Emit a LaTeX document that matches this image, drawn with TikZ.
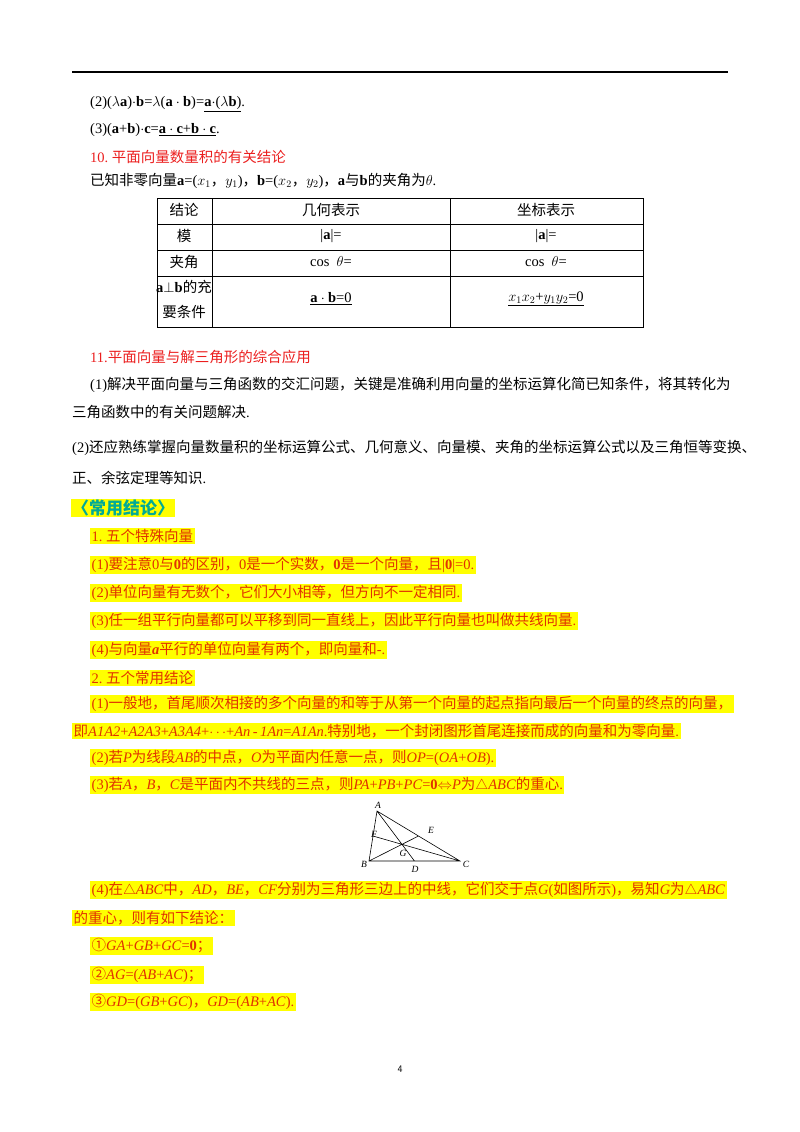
\documentclass[tikz,border=0pt]{standalone}
\usepackage{fontspec}
\usetikzlibrary{calc}
\setmainfont{Liberation Serif}
\newfontfamily\cjk{Noto Sans CJK SC}
\newcommand{\zh}[1]{{\cjk #1}}
\definecolor{rd}{RGB}{235,30,30}
\definecolor{hr}{RGB}{225,50,0}
\definecolor{hy}{RGB}{255,255,0}
\definecolor{tl}{RGB}{0,170,150}
\begin{document}
\begin{tikzpicture}[x=1pt,y=-1pt,
  t/.style={anchor=west,inner sep=0pt,font=\fontsize{14.5}{16}\selectfont},
  h/.style={anchor=west,inner sep=1.5pt,fill=hy,text=hr,font=\fontsize{14.5}{16}\selectfont},
  c/.style={inner sep=0pt,font=\fontsize{14.5}{16}\selectfont},
  s/.style={inner sep=0pt,font=\itshape\fontsize{9.5}{10}\selectfont}]
\useasboundingbox (0,0) rectangle (800,1132);
\draw[line width=1.3pt] (72,72) -- (728,72);
\node[t] (l1) at (90,104) {(2)($\lambda\mathbf{a}$)$\cdot\mathbf{b}$=$\lambda$($\mathbf{a}\cdot\mathbf{b}$)=\underline{$\mathbf{a}\cdot$($\lambda\mathbf{b}$)}.};
\node[t] (l2) at (90,130) {(3)($\mathbf{a}$+$\mathbf{b}$)$\cdot\mathbf{c}$=\underline{$\mathbf{a}\cdot\mathbf{c}$+$\mathbf{b}\cdot\mathbf{c}$}.};
\node[t,text=rd] (l3) at (90,157) {10.\ \zh{平面向量数量积的有关结论}};
\node[t] (l4) at (90,181) {\zh{已知非零向量}$\mathbf{a}$=($x_1$\zh{，}$y_1$)\zh{，}$\mathbf{b}$=($x_2$\zh{，}$y_2$)\zh{，}$\mathbf{a}$\zh{与}$\mathbf{b}$\zh{的夹角为}$\theta$.};
% table
\draw[line width=0.8pt] (157,198) rectangle (643,327);
\foreach \y in {224,250,276} \draw[line width=0.8pt] (157,\y) -- (643,\y);
\foreach \x in {212,450} \draw[line width=0.8pt] (\x,198) -- (\x,327);
\node[c] (a1) at (184,210) {\zh{结论}};
\node[c] (a2) at (331,210) {\zh{几何表示}};
\node[c] (a3) at (546,210) {\zh{坐标表示}};
\node[c] (b1) at (184,236) {\zh{模}};
\node[c] (b2) at (331,236) {|$\mathbf{a}$|=};
\node[c] (b3) at (546,236) {|$\mathbf{a}$|=};
\node[c] (c1) at (184,262) {\zh{夹角}};
\node[c] (c2) at (331,262) {cos\ \ $\theta$=};
\node[c] (c3) at (546,262) {cos\ \ $\theta$=};
\node[c] (d1) at (184,287) {$\mathbf{a}{\perp}\mathbf{b}$\zh{的充}};
\node[c] (d1b) at (184,312) {\zh{要条件}};
\node[c] (d2) at (331,299) {\underline{$\mathbf{a}\cdot\mathbf{b}$=0}};
\node[c] (d3) at (546,299) {\underline{$x_1x_2$+$y_1y_2$=0}};
\node[t,text=rd] (e1) at (90,357) {11.\zh{平面向量与解三角形的综合应用}};
\node[t] (e2) at (90,385) {(1)\zh{解决平面向量与三角函数的交汇问题，关键是准确利用向量的坐标运算化简已知条件，将其转化为}};
\node[t] (e3) at (72,412) {\zh{三角函数中的有关问题解决}.};
\node[t] (e4) at (72,448) {(2)\zh{还应熟练掌握向量数量积的坐标运算公式、几何意义、向量模、夹角的坐标运算公式以及三角恒等变换、}};
\node[t] (e5) at (72,478) {\zh{正、余弦定理等知识}.};
\node[anchor=west,inner sep=1pt,fill=hy,text=tl,font=\fontsize{17}{19}\selectfont\bfseries] (f0) at (71,508) {\zh{〈常用结论〉}};
\node[h] (f1) at (90,536) {1.\ \zh{五个特殊向量}};
\node[h] (f2) at (90,565) {(1)\zh{要注意}0\zh{与}$\mathbf{0}$\zh{的区别，}0\zh{是一个实数，}$\mathbf{0}$\zh{是一个向量，且}|$\mathbf{0}$|=0.};
\node[h] (f3) at (90,593) {(2)\zh{单位向量有无数个，它们大小相等，但方向不一定相同}.};
\node[h] (f4) at (90,621) {(3)\zh{任一组平行向量都可以平移到同一直线上，因此平行向量也叫做共线向量}.};
\node[h] (f5) at (90,650) {(4)\zh{与向量}\textbf{\textit{a}}\zh{平行的单位向量有两个，即向量和}-.};
\node[h] (f6) at (90,678) {2.\ \zh{五个常用结论}};
\node[h] (f7) at (90,704) {(1)\zh{一般地，首尾顺次相接的多个向量的和等于从第一个向量的起点指向最后一个向量的终点的向量，}};
\node[h] (f8) at (72,731) {\zh{即}\textit{A1A2}+\textit{A2A3}+\textit{A3A4}+$\cdots$+\textit{An}\,-\,\textit{1An}=\textit{A1An}.\zh{特别地，一个封闭图形首尾连接而成的向量和为零向量}.};
\node[h] (f9) at (90,758) {(2)\zh{若}\textit{P}\zh{为线段}\textit{AB}\zh{的中点，}\textit{O}\zh{为平面内任意一点，则}\textit{OP}=(\textit{OA}+\textit{OB}).};
\node[h] (f10) at (90,785) {(3)\zh{若}\textit{A}\zh{，}\textit{B}\zh{，}\textit{C}\zh{是平面内不共线的三点，则}\textit{PA}+\textit{PB}+\textit{PC}=$\mathbf{0}$$\Leftrightarrow$\textit{P}\zh{为}$\triangle$\textit{ABC}\zh{的重心}.};
% triangle
\coordinate (A) at (377,811);
\coordinate (B) at (369,861);
\coordinate (C) at (460,861);
\coordinate (D) at ($(B)!0.5!(C)$);
\coordinate (E) at ($(A)!0.5!(C)$);
\coordinate (F) at ($(A)!0.5!(B)$);
\coordinate (G) at ($(A)!0.6667!(D)$);
\draw[line width=0.6pt] (A) -- (B) -- (C) -- cycle (A) -- (D) (B) -- (E) (C) -- (F);
\node[s] (lA) at (378,805) {A};
\node[s] (lB) at (364,864) {B};
\node[s] (lC) at (466,864) {C};
\node[s] (lD) at (415,869) {D};
\node[s] (lE) at (431,830) {E};
\node[s] (lF) at (374,834) {F};
\node[s] (lG) at (403,853) {G};
\node[h] (g1) at (90,890) {(4)\zh{在}$\triangle$\textit{ABC}\zh{中，}\textit{AD}\zh{，}\textit{BE}\zh{，}\textit{CF}\zh{分别为三角形三边上的中线，它们交于点}\textit{G}(\zh{如图所示})\zh{，易知}\textit{G}\zh{为}$\triangle$\textit{ABC}};
\node[h] (g2) at (72,918) {\zh{的重心，则有如下结论：}};
\node[h] (g3) at (90,946) {\zh{①}\textit{GA}+\textit{GB}+\textit{GC}=$\mathbf{0}$\zh{；}};
\node[h] (g4) at (90,975) {\zh{②}\textit{AG}=(\textit{AB}+\textit{AC})\zh{；}};
\node[h] (g5) at (90,1002) {\zh{③}\textit{GD}=(\textit{GB}+\textit{GC})\zh{，}\textit{GD}=(\textit{AB}+\textit{AC}).};
\node[inner sep=0pt,font=\fontsize{10}{12}\selectfont\sffamily] (pn) at (400,1069) {4};
\end{tikzpicture}
\end{document}
